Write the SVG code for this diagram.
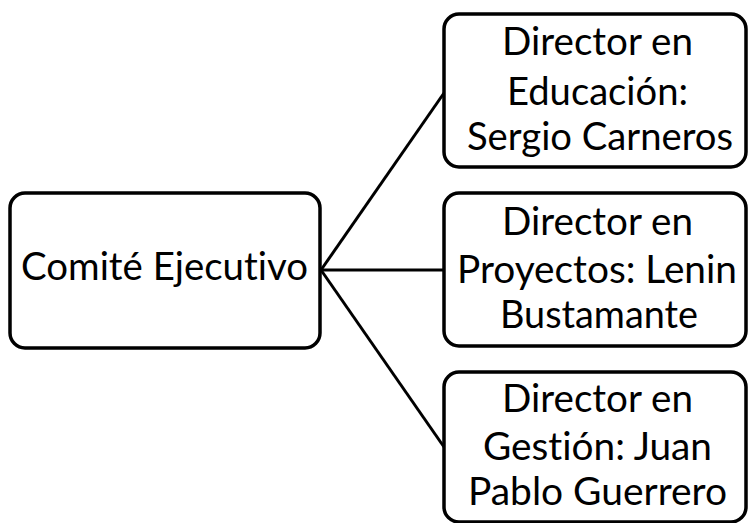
<svg xmlns="http://www.w3.org/2000/svg" width="750" height="523" viewBox="0 0 750 523">
<style>
.box{fill:#fff;stroke:#000;stroke-width:3.5}
.conn{stroke:#000;stroke-width:3;fill:none}
.t{font-family:Lato,"Open Sans","Liberation Sans",sans-serif;font-size:38px;fill:#000;text-anchor:middle;font-variant-ligatures:none;font-feature-settings:"liga" 0,"dlig" 0}
</style>
<rect width="750" height="523" fill="#fff"/>
<g id="connectors">
<line class="conn" x1="321" y1="270" x2="444" y2="93"/>
<line class="conn" x1="321" y1="270" x2="444" y2="270"/>
<line class="conn" x1="321" y1="270" x2="444" y2="447"/>
</g>
<g id="comite">
<rect class="box" x="10" y="193" width="310" height="155" rx="15"/>
<text class="t" x="164.5" y="280" textLength="287" lengthAdjust="spacingAndGlyphs">Comité Ejecutivo</text>
</g>
<g id="educacion">
<rect class="box" x="444" y="14" width="302" height="153" rx="15"/>
<text class="t" x="597.5" y="55" textLength="191" lengthAdjust="spacingAndGlyphs">Director en</text>
<text class="t" x="597.5" y="105" textLength="181" lengthAdjust="spacingAndGlyphs">Educación:</text>
<text class="t" x="600" y="150" textLength="266" lengthAdjust="spacingAndGlyphs">Sergio Carneros</text>
</g>
<g id="proyectos">
<rect class="box" x="444" y="193" width="302" height="153" rx="15"/>
<text class="t" x="597.5" y="235" textLength="191" lengthAdjust="spacingAndGlyphs">Director en</text>
<text class="t" x="597" y="283" textLength="280" lengthAdjust="spacingAndGlyphs">Proyectos: Lenin</text>
<text class="t" x="599" y="328" textLength="198" lengthAdjust="spacingAndGlyphs">Bustamante</text>
</g>
<g id="gestion">
<rect class="box" x="444" y="372" width="302" height="150" rx="15"/>
<text class="t" x="597.5" y="412" textLength="191" lengthAdjust="spacingAndGlyphs">Director en</text>
<text class="t" x="597.5" y="460" textLength="229" lengthAdjust="spacingAndGlyphs">Gestión: Juan</text>
<text class="t" x="597.5" y="505" textLength="259" lengthAdjust="spacingAndGlyphs">Pablo Guerrero</text>
</g>
</svg>
